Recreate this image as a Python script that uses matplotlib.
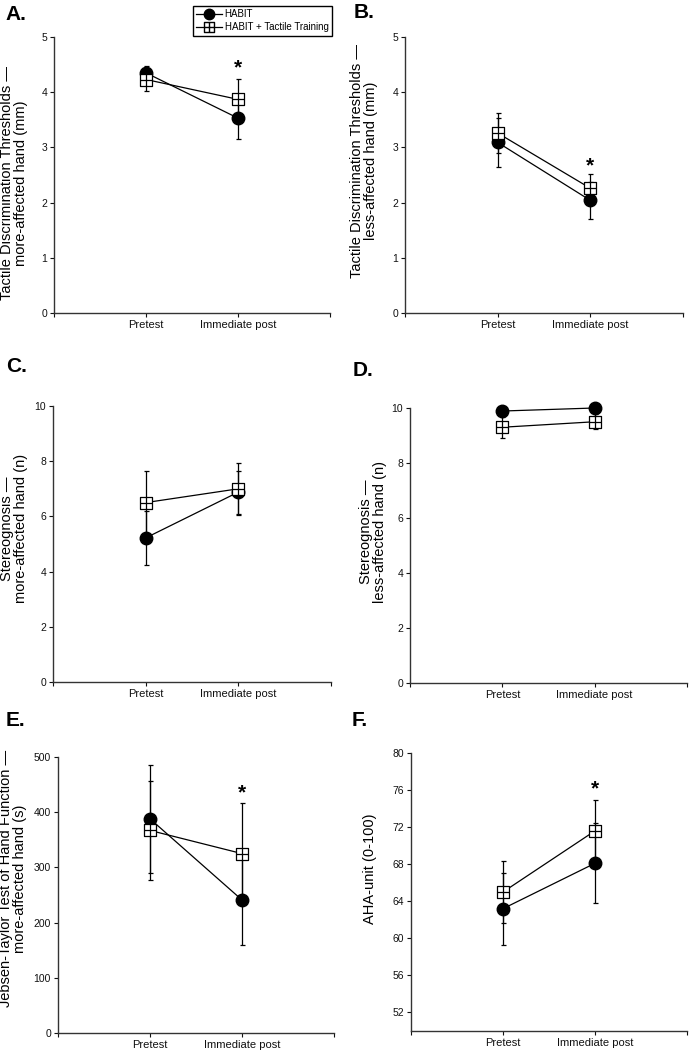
import matplotlib
matplotlib.use("Agg")
import matplotlib.pyplot as plt
from matplotlib.path import Path
from matplotlib.lines import Line2D

plt.rcParams['font.family'] = ['Liberation Sans', 'DejaVu Sans']

timepoints = ["Pretest", "Immediate post"]
series_names = ["HABIT", "HABIT + Tactile Training"]

# Panel A: tactile discrimination, more-affected hand (mm)
a_habit = [4.35, 3.53]
a_habit_err = [0.13, 0.37]
a_tact = [4.23, 3.87]
a_tact_err = [0.20, 0.37]

# Panel B: tactile discrimination, less-affected hand (mm)
b_habit = [3.09, 2.04]
b_habit_err = [0.45, 0.33]
b_tact = [3.26, 2.26]
b_tact_err = [0.36, 0.25]

# Panel C: stereognosis, more-affected hand (n)
c_habit = [5.22, 6.88]
c_habit_err = [0.97, 0.78]
c_tact = [6.50, 7.00]
c_tact_err = [1.13, 0.95]

# Panel D: stereognosis, less-affected hand (n)
d_habit = [9.89, 10.0]
d_habit_err = [0.2, 0.0]
d_tact = [9.30, 9.50]
d_tact_err = [0.40, 0.28]

# Panel E: Jebsen-Taylor (s)
e_habit = [388, 241]
e_habit_err = [98, 82]
e_tact = [367, 325]
e_tact_err = [89, 91]

# Panel F: AHA units
f_habit = [63.2, 68.1]
f_habit_err = [3.9, 4.3]
f_tact = [65.0, 71.6]
f_tact_err = [3.3, 3.35]

panels = [
    dict(letter="A.", habit=a_habit, he=a_habit_err, tact=a_tact, te=a_tact_err,
         ylim=(0, 5), yticks=[0, 1, 2, 3, 4, 5],
         ylabel="Tactile Discrimination Thresholds —\nmore-affected hand (mm)", star=4.44,
         px=(54, 330, 37, 313), lab=(28, 0.47), let=(5, 14)),
    dict(letter="B.", habit=b_habit, he=b_habit_err, tact=b_tact, te=b_tact_err,
         ylim=(0, 5), yticks=[0, 1, 2, 3, 4, 5],
         ylabel="Tactile Discrimination Thresholds —\nless-affected hand (mm)", star=2.66,
         px=(405, 683, 37, 313), lab=(378, 0.55), let=(354, 13)),
    dict(letter="C.", habit=c_habit, he=c_habit_err, tact=c_tact, te=c_tact_err,
         ylim=(0, 10), yticks=[0, 2, 4, 6, 8, 10],
         ylabel="Stereognosis —\nmore-affected hand (n)", star=None,
         px=(53, 331, 406, 682), lab=(28, 0.555), let=(6, 367)),
    dict(letter="D.", habit=d_habit, he=d_habit_err, tact=d_tact, te=d_tact_err,
         ylim=(0, 10), yticks=[0, 2, 4, 6, 8, 10],
         ylabel="Stereognosis —\nless-affected hand (n)", star=None,
         px=(410, 687, 408, 683), lab=(387, 0.55), let=(353, 370)),
    dict(letter="E.", habit=e_habit, he=e_habit_err, tact=e_tact, te=e_tact_err,
         ylim=(0, 500), yticks=[0, 100, 200, 300, 400, 500],
         ylabel="Jebsen-Taylor Test of Hand Function —\nmore-affected hand (s)", star=435,
         px=(58, 334, 757, 1033), lab=(27, 0.56), let=(6, 721)),
    dict(letter="F.", habit=f_habit, he=f_habit_err, tact=f_tact, te=f_tact_err,
         ylim=(50, 80), yticks=[52, 56, 60, 64, 68, 72, 76, 80],
         ylabel="AHA-unit (0-100)", star=76.1,
         px=(411, 687, 753, 1031), lab=(377, 0.585), let=(352, 721)),
]

W, H = 689, 1050
fig = plt.figure(figsize=(W / 100, H / 100), dpi=100)

sq_plus = Path([(-1, -1), (1, -1), (1, 1), (-1, 1), (-1, -1),
                (-1, 0), (1, 0), (0, -1), (0, 1)],
               [Path.MOVETO, Path.LINETO, Path.LINETO, Path.LINETO, Path.CLOSEPOLY,
                Path.MOVETO, Path.LINETO, Path.MOVETO, Path.LINETO])

xpos = [1, 2]
lw = 0.9
for p in panels:
    l, r, t, b = p["px"]
    ax = fig.add_axes([l / W, 1 - b / H, (r - l) / W, (b - t) / H])
    e1 = ax.errorbar(xpos, p["habit"], yerr=p["he"], color="black", lw=lw, elinewidth=lw,
                     capsize=1.8, capthick=lw, marker="o", ms=9, mfc="black", mec="black",
                     zorder=3)
    e2 = ax.errorbar(xpos, p["tact"], yerr=p["te"], color="black", lw=lw, elinewidth=lw,
                     capsize=1.8, capthick=lw, marker=sq_plus, ms=8.5, mfc="white",
                     mec="black", mew=0.9, zorder=4)
    for art in (e1, e2):
        for child in art.get_children():
            child.set_clip_on(False)
    ax.set_xlim(0, 3)
    ax.set_ylim(*p["ylim"])
    ax.set_xticks([0, 1, 2, 3])
    ax.set_xticklabels(["", timepoints[0], timepoints[1], ""], fontsize=8)
    ax.set_yticks(p["yticks"])
    ax.set_yticklabels([str(v) for v in p["yticks"]], fontsize=7.5)
    for s in ["top", "right"]:
        ax.spines[s].set_visible(False)
    for s in ["left", "bottom"]:
        ax.spines[s].set_linewidth(1.0)
        ax.spines[s].set_color("#333333")
    ax.tick_params(axis="both", direction="out", length=3, width=0.8, pad=2, colors="#111111")
    ax.set_ylabel(p["ylabel"], fontsize=10.5, linespacing=1.0)
    lx, ly = p["lab"]
    ax.yaxis.set_label_coords((lx - l) / (r - l), ly)
    if p["star"] is not None:
        ax.text(2, p["star"], "*", ha="center", va="center", fontsize=15, fontweight="bold")
    fx, fy = p["let"]
    fig.text(fx / W, 1 - fy / H, p["letter"], fontsize=15, fontweight="bold",
             va="center", ha="left")

# legend
h1 = Line2D([], [], color="black", lw=lw, marker="o", ms=7.5, mfc="black", mec="black")
h2 = Line2D([], [], color="black", lw=lw, marker=sq_plus, ms=7, mfc="white", mec="black")
fig.legend([h1, h2], series_names, loc="upper left",
           bbox_to_anchor=(193 / W, 1 - 6 / H), fontsize=7.0, frameon=True,
           fancybox=False, edgecolor="black", framealpha=1, handlelength=2.6,
           borderpad=0.35, labelspacing=0.3, handletextpad=0.3, borderaxespad=0)

fig.savefig("out.png", dpi=100)
